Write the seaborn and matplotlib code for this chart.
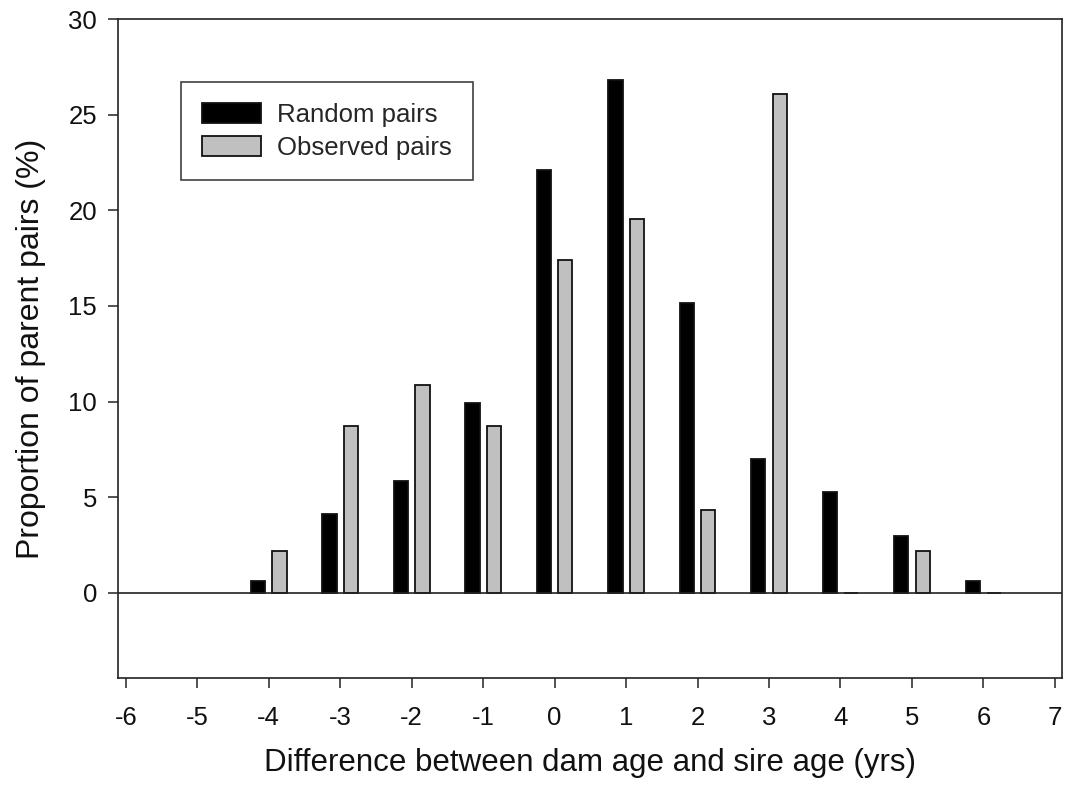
import matplotlib
matplotlib.use("Agg")
import matplotlib.pyplot as plt
import seaborn as sns
import pandas as pd
from matplotlib.patches import Patch

# Data
diffs = [-4, -3, -2, -1, 0, 1, 2, 3, 4, 5, 6]
random_pairs = [0.6, 4.1, 5.85, 9.9, 22.1, 26.8, 15.15, 7.0, 5.25, 2.95, 0.6]
observed_pairs = [2.17, 8.70, 10.87, 8.70, 17.39, 19.57, 4.35, 26.09, 0.0, 2.17, 0.0]
series_names = ["Random pairs", "Observed pairs"]
series_colors = ["#000000", "#c0c0c0"]
x_ticks = list(range(-6, 8))
y_ticks = [0, 5, 10, 15, 20, 25, 30]

df = pd.DataFrame({
    "diff": diffs * 2,
    "value": random_pairs + observed_pairs,
    "series": [series_names[0]] * len(diffs) + [series_names[1]] * len(diffs),
})

sns.set_style("ticks")
plt.rcParams["font.family"] = ["Liberation Sans", "DejaVu Sans"]

fig = plt.figure(figsize=(10.68, 7.94), dpi=100)
ax = fig.add_axes([118 / 1068, (794 - 678) / 794, 944 / 1068, 659 / 794])

sns.barplot(data=df, x="diff", y="value", hue="series", hue_order=series_names,
            palette=series_colors, native_scale=True, width=0.6, gap=1/3,
            edgecolor="#111111", linewidth=1.3, legend=False, ax=ax, errorbar=None)

ax.axhline(0, color="#222222", lw=1.2, zorder=3)
ax.set_xlim(-6.11, 7.1)
ax.set_ylim(-4.45, 30)
ax.set_xticks(x_ticks)
ax.set_xticklabels([str(t) for t in x_ticks])
ax.set_yticks(y_ticks)
ax.set_yticklabels([str(t) for t in y_ticks])
ax.tick_params(axis="both", direction="out", length=7.2, width=1.1, color="#222222",
               labelsize=18.5, colors="#111111")
ax.tick_params(axis="x", pad=13)
ax.tick_params(axis="y", pad=8)
for sp in ax.spines.values():
    sp.set_visible(True)
    sp.set_linewidth(1.2)
    sp.set_color("#222222")

ax.set_xlabel("Difference between dam age and sire age (yrs)", fontsize=22.5, labelpad=13, color="#111111")
ax.set_ylabel("Proportion of parent pairs (%)", fontsize=23, labelpad=16, color="#111111")

handles = [Patch(facecolor=c, edgecolor="#111111", linewidth=1.3) for c in series_colors]
leg = ax.legend(handles, series_names, loc="upper left", bbox_to_anchor=(0.0667, 0.904),
                borderaxespad=0, fontsize=18.5, frameon=True, fancybox=False,
                handlelength=2.33, handleheight=0.78, handletextpad=0.62,
                labelspacing=0.35, borderpad=0.8)
leg.get_frame().set_edgecolor("#111111")
leg.get_frame().set_linewidth(1.2)

fig.savefig("out.png", dpi=100)
